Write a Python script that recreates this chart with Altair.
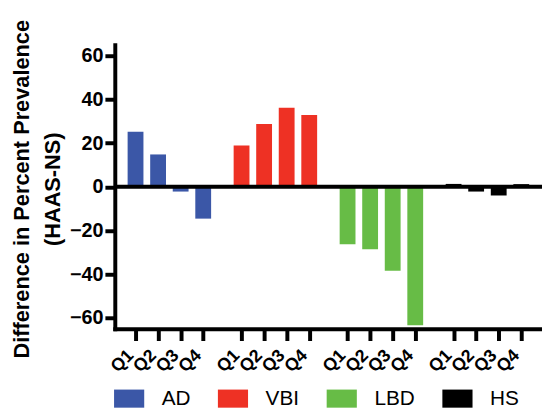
import altair as alt
import pandas as pd

groups = ["AD", "VBI", "LBD", "HS"]
quarters = ["Q1", "Q2", "Q3", "Q4"]
ad = [25.2, 14.8, -2.2, -14.6]
vbi = [18.9, 28.8, 36.2, 32.9]
lbd = [-26.3, -28.6, -38.5, -63.4]
hs = [1.3, -2.2, -4.0, 1.2]
colors = ["#3B57A7", "#EE3124", "#67BC46", "#000000"]
y_ticks = [-60, -40, -20, 0, 20, 40, 60]

GROUP_STEP = 4.7
series = [ad, vbi, lbd, hs]
rows = []
for gi, (g, vals) in enumerate(zip(groups, series)):
    for qi, (q, v) in enumerate(zip(quarters, vals)):
        rows.append({"group": g, "quarter": q, "value": v, "pos": gi * GROUP_STEP + qi})
df = pd.DataFrame(rows)
tick_positions = list(df["pos"])

FONT = "Liberation Sans"

x = alt.X(
    "pos:Q",
    scale=alt.Scale(domain=[-0.7, 17.8], nice=False, zero=False),
    axis=alt.Axis(
        values=tick_positions,
        labelExpr="'Q' + (round(datum.value - 4.7*floor((datum.value + 0.5)/4.7)) + 1)",
        labelAngle=315,
        labelAlign="right",
        labelBaseline="middle",
        labelFont=FONT,
        labelFontWeight="bold",
        labelFontSize=18,
        labelColor="black",
        labelOverlap=False,
        labelFlush=False,
        labelPadding=12,
        labelOffset=-5,
        tickSize=12,
        tickWidth=4,
        tickColor="black",
        domainWidth=4,
        domainColor="black",
        domainCap="square",
        grid=False,
        title=None,
    ),
)

y = alt.Y(
    "value:Q",
    scale=alt.Scale(domain=[-65, 65], nice=False),
    axis=alt.Axis(
        values=y_ticks,
        labelFont=FONT,
        labelFontWeight="bold",
        labelFontSize=20,
        labelColor="black",
        labelPadding=2,
        tickSize=10,
        tickWidth=4,
        tickColor="black",
        domainWidth=4,
        domainColor="black",
        domainCap="square",
        grid=False,
        title=["Difference in Percent Prevalence", "(HAAS-NS)"],
        titleFont=FONT,
        titleFontWeight="bold",
        titleFontSize=22,
        titleColor="black",
        titleAngle=270,
        titleAlign="center",
        titleBaseline="alphabetic",
        titleLineHeight=31.5,
        titleX=-87.5,
        titleY=145.5,
    ),
)

bars = alt.Chart(df).mark_bar(size=16).encode(
    x=x,
    y=y,
    color=alt.Color(
        "group:N",
        scale=alt.Scale(domain=groups, range=colors),
        legend=alt.Legend(
            title=None,
            orient="none",
            direction="horizontal",
            legendX=-1,
            legendY=342,
            symbolType="M-1,-0.6H1V0.6H-1Z",
            symbolSize=930,
            symbolStrokeWidth=0,
            symbolOpacity=1,
            labelFont=FONT,
            labelFontSize=21,
            labelColor="black",
            labelOffset=17.5,
            columnPadding=27,
        ),
    ),
)

zero = alt.Chart(pd.DataFrame({"z": [0]})).mark_rule(strokeWidth=4, color="black").encode(
    y=alt.Y("z:Q")
)

chart = (
    alt.layer(bars, zero)
    .properties(
        width=432,
        height=287,
        autosize=alt.AutoSizeParams(type="none"),
        padding={"left": 108, "top": 35, "right": 0, "bottom": 81},
    )
    .configure_view(strokeWidth=0)
)

chart.save("out.html", embed_options={"renderer": "svg", "actions": False})
